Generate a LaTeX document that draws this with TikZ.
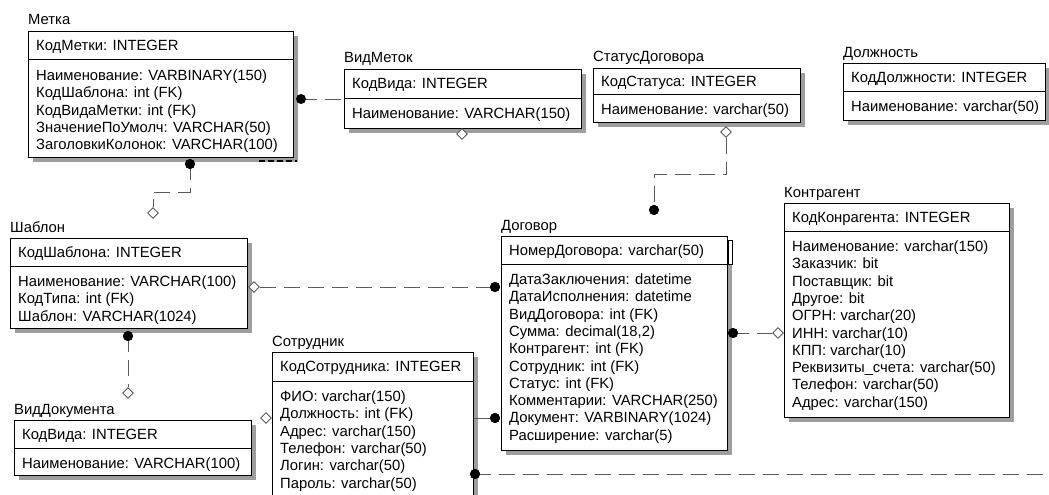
\documentclass[tikz,border=0pt]{standalone}
\usepackage{fontspec}
\setmainfont{Liberation Sans}
\usetikzlibrary{calc,shapes.geometric}

\tikzset{
  entbox/.style={draw=black, fill=white, line width=1pt, inner sep=0pt, anchor=north west},
  entshade/.style={fill=black!38},
  lbl/.style={inner sep=0pt, anchor=base west, font=\fontsize{14.8}{17}\selectfont},
  rel/.style={draw=black!65, line width=1pt, dash pattern=on 16pt off 8pt},
  reldot/.style={circle, fill=black, inner sep=0pt, minimum size=10pt},
  reldia/.style={diamond, draw=black!65, fill=white, inner sep=0pt, minimum size=11pt, line width=0.9pt},
}

% #1 name, #2 x, #3 y, #4 width, #5 height, #6 key area height,
% #7 entity title, #8 key attribute, #9 list of the other attributes
\newcommand\entity[9]{%
  \fill[entshade] ({#2+5},{#3+5}) rectangle ({#2+#4+5},{#3+#5+5});
  \node[entbox, minimum width=#4pt, minimum height=#5pt] (#1) at (#2,#3) {};
  \draw[line width=1pt] (#2,{#3+#6}) -- ({#2+#4},{#3+#6});
  \node[lbl] (#1-t) at (#2,{#3-6}) {#7};
  \node[lbl] (#1-k) at ({#2+8},{#3+#6/2+5.2}) {#8};
  \foreach \t [count=\i] in {#9}
    \node[lbl] (#1-a\i) at ({#2+8},{#3+#6+20.5+(\i-1)*17.3}) {\t};
}

\begin{document}
\begin{tikzpicture}[x=1pt, y=-1pt]
\clip (0,0) rectangle (1049,495);
\fill[white] (0,0) rectangle (1049,495);

\entity{metka}{28}{31}{265}{126}{29}{Метка}{КодМетки: INTEGER}
  {Наименование: VARBINARY(150), КодШаблона: int (FK), КодВидаМетки: int (FK),
   ЗначениеПоУмолч: VARCHAR(50), ЗаголовкиКолонок: VARCHAR(100)}
\entity{vidmetok}{344}{69}{237}{59}{29}{ВидМеток}{КодВида: INTEGER}
  {Наименование: VARCHAR(150)}
\entity{status}{593}{68}{207}{54}{26}{СтатусДоговора}{КодСтатуса: INTEGER}
  {Наименование: varchar(50)}
\entity{dolzh}{843}{63}{202}{57}{28}{Должность}{КодДолжности: INTEGER}
  {Наименование: varchar(50)}
\entity{shablon}{10}{238}{237}{90}{28}{Шаблон}{КодШаблона: INTEGER}
  {Наименование: VARCHAR(100), КодТипа: int (FK), Шаблон: VARCHAR(1024)}
\entity{viddok}{14}{420}{237}{55}{28}{ВидДокумента}{КодВида: INTEGER}
  {Наименование: VARCHAR(100)}
\entity{sotr}{272}{352}{201}{160}{29}{Сотрудник}{КодСотрудника: INTEGER}
  {ФИО: varchar(150), Должность: int (FK), Адрес: varchar(150),
   Телефон: varchar(50), Логин: varchar(50), Пароль: varchar(50)}
\entity{dogovor}{501}{236}{226}{214}{28}{Договор}{НомерДоговора: varchar(50)}
  {ДатаЗаключения: datetime, ДатаИсполнения: datetime, ВидДоговора: int (FK),
   {Сумма: decimal(18,2)}, Контрагент: int (FK), Сотрудник: int (FK),
   Статус: int (FK), Комментарии: VARCHAR(250), Документ: VARBINARY(1024),
   Расширение: varchar(5)}
\entity{kontr}{784}{203}{225}{214}{28}{Контрагент}{КодКонрагента: INTEGER}
  {Наименование: varchar(150), Заказчик: bit, Поставщик: bit, Другое: bit,
   ОГРН: varchar(20), ИНН: varchar(10), КПП: varchar(10),
   Реквизиты\_счета: varchar(50), Телефон: varchar(50), Адрес: varchar(150)}

% small marks on the entity frames
\draw[black, line width=2pt, dash pattern=on 6pt off 3pt]
  ($(metka.south east)+(-35,3)$) -- ++(38,0);
\draw[black, fill=white, line width=0.8pt]
  ($(dogovor.north east)+(0,4)$) rectangle ++(4,24);
\node[reldia] (vmd) at ($(vidmetok.south west)+(118,5)$) {};

% Метка -> ВидМеток
\coordinate (mv) at ($(metka.east |- vidmetok.west)+(7,0)$);
\draw[rel] (mv) -- (vidmetok.west);
\node[reldot] at (mv) {};

% Метка -> Шаблон
\node[reldot] (msdot) at ($(metka.south west)+(162,6)$) {};
\node[reldia] (msdia) at ($(shablon.north west)+(143,-25)$) {};
\draw[rel] (msdot.center) -- ++(0,28) -| (msdia.north);
\node[reldot] at (msdot) {};

% СтатусДоговора -> Договор
\node[reldia] (sddia) at ($(status.south west)+(133,9)$) {};
\node[reldot] (sddot) at ($(dogovor.north west)+(153,-26)$) {};
\draw[rel] (sddia.south) -- ++(0,37) -| (sddot.center);
\node[reldot] at (sddot) {};

% Шаблон -> Договор
\node[reldia] (sgdia) at ($(shablon.north east)+(6,49)$) {};
\node[reldot] (sgdot) at ($(dogovor.north west)+(-6,51)$) {};
\draw[rel] (sgdia.east) -- (sgdot.center);
\node[reldot] at (sgdot) {};

% Шаблон -> ВидДокумента
\node[reldot] (svdot) at ($(shablon.south west)+(118,7)$) {};
\node[reldia] (svdia) at ($(viddok.north west)+(114,-27)$) {};
\draw[rel] (svdot.center) -- (svdia.north);
\node[reldot] at (svdot) {};

% Сотрудник
\node[reldia] (sodia) at ($(sotr.north west)+(-6,66)$) {};
\node[reldot] (sgodot) at ($(dogovor.north west)+(-6,182)$) {};
\draw[black!65, line width=1pt] (sotr.north east |- sgodot) -- (sgodot.center);
\node[reldot] at (sgodot) {};

% Договор -> Контрагент
\node[reldot] (dkdot) at ($(dogovor.north east)+(5,97)$) {};
\node[reldia] (dkdia) at ($(kontr.north west)+(-6,130)$) {};
\draw[rel] (dkdot.center) -- (dkdia.west);
\node[reldot] at (dkdot) {};

% Сотрудник, line leaving to the right
\node[reldot] (sbdot) at ($(sotr.north east)+(1,122)$) {};
\coordinate (sbend) at ($(sotr.north east)+(600,122)$);
\draw[rel] (sbdot.center) -- (sbend);
\node[reldot] at (sbdot) {};
\end{tikzpicture}
\end{document}
